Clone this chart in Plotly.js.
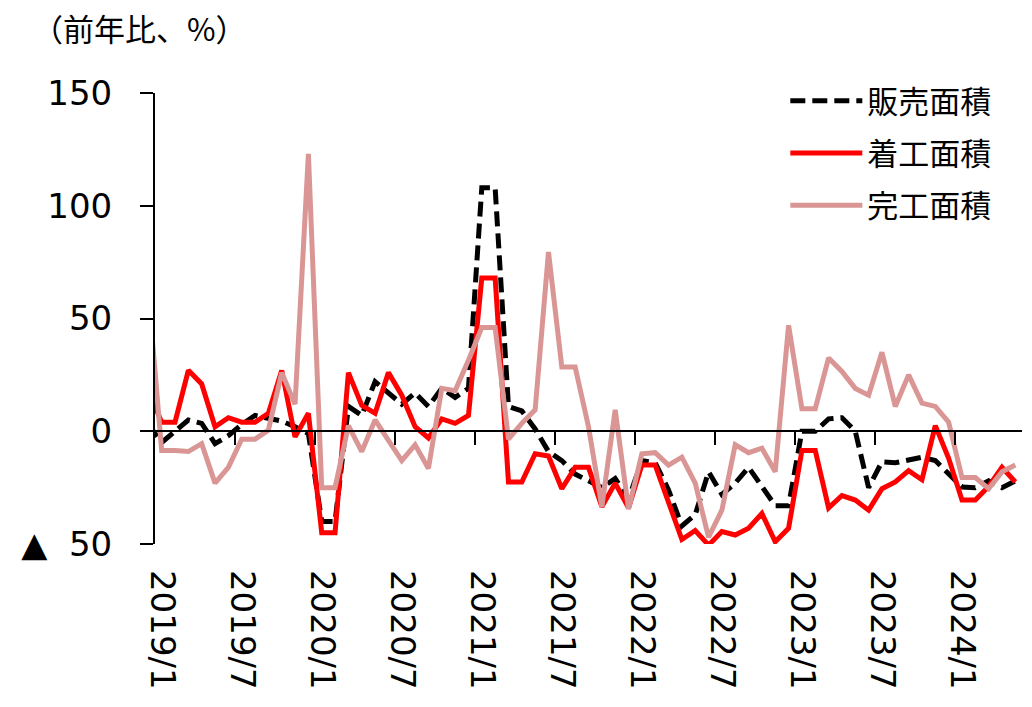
<!DOCTYPE html>
<html>
<head>
<meta charset="utf-8">
<script src="https://cdn.plot.ly/plotly-3.0.1.min.js"></script>
<style>
html,body{margin:0;padding:0;background:#fff;}
#chart{width:1032px;height:707px;}
</style>
</head>
<body>
<div id="chart"></div>
<script>
// Months (the first one, 2018/12, lies just left of the plot and is clipped)
const months = [
  "2018/12",
  "2019/1","2019/2","2019/3","2019/4","2019/5","2019/6","2019/7","2019/8","2019/9","2019/10","2019/11","2019/12",
  "2020/1","2020/2","2020/3","2020/4","2020/5","2020/6","2020/7","2020/8","2020/9","2020/10","2020/11","2020/12",
  "2021/1","2021/2","2021/3","2021/4","2021/5","2021/6","2021/7","2021/8","2021/9","2021/10","2021/11","2021/12",
  "2022/1","2022/2","2022/3","2022/4","2022/5","2022/6","2022/7","2022/8","2022/9","2022/10","2022/11","2022/12",
  "2023/1","2023/2","2023/3","2023/4","2023/5","2023/6","2023/7","2023/8","2023/9","2023/10","2023/11","2023/12",
  "2024/1","2024/2","2024/3","2024/4","2024/5"
];

// 販売面積 (sales area), YoY %
const sales = [
  3,
  -5, 0, 5, 3.5, -5.5, -2, 3, 7, 6, 4.5, 2, -1,
  -40, -40, 11, 7, 22, 17, 12, 17, 11, 19, 15, 19,
  108, 108, 11, 9, 1, -9, -13, -19, -22, -25, -21, -30,
  -13, -14, -26, -42, -37, -18, -28, -23, -16, -25, -33, -33,
  0, 0, 5.5, 6, 0, -25, -13.5, -14, -12.5, -11.5, -13, -19,
  -24.7, -25, -22, -25, -22
];

// 着工面積 (construction starts area), YoY %
const starts = [
  18,
  4, 4, 27, 21, 2, 6, 4, 4, 8, 27, -2.5, 8,
  -45, -45, 26, 11.5, 8, 26, 16, 2, -3, 5.5, 3.5, 7,
  68, 68, -22.5, -22.5, -10, -11, -25.5, -16, -16, -33.5, -23, -34,
  -15, -15, -31, -48, -44, -50.5, -44.5, -46, -43, -36.5, -49, -43,
  -8.5, -8.5, -34, -28.5, -30.5, -35, -25.5, -22.5, -17.5, -21.5, 2.5, -12,
  -30.5, -30.5, -24.5, -16, -22.5
];

// 完工面積 (completions area), YoY %
const completions = [
  62,
  -8.5, -8.5, -9, -5.5, -23, -16, -3.5, -3.5, 0.5, 26, 12, 123,
  -25, -25, 2.5, -9, 5, -4, -13, -6, -16.5, 19, 18, 31.5,
  46, 46, -3.5, 3.5, 9.5, 79.5, 28.5, 28.5, 2, -33.5, 9.5, -34.5,
  -10, -9.5, -15, -11.5, -23, -47, -35, -6, -9.5, -7.5, -18, 47,
  10, 10, 32.5, 26.5, 19, 16, 35, 11, 25, 12.5, 11, 4,
  -20.5, -20.5, -25.5, -18, -15
];

const xTickLabels = ["2019/1","2019/7","2020/1","2020/7","2021/1","2021/7","2022/1","2022/7","2023/1","2023/7","2024/1"];
const yTickValues = [-50, 0, 50, 100, 150];
const yTickLabels = ["▲\u00a0\u00a050", "0", "50", "100", "150"];
const seriesNames = ["販売面積", "着工面積", "完工面積"];

// month index: 2019/1 -> 0
const firstIdx = months.indexOf("2019/1");
const xPos = months.map((m, i) => i - firstIdx);
const labelPos = xTickLabels.map(l => months.indexOf(l) - firstIdx);
const boundaryPos = labelPos.slice(1).map(p => p - 0.5);
const lastIdx = months.length - 1 - firstIdx;
const xRange = [-0.5, lastIdx + 0.5];

const numFont = {family: "DejaVu Sans, Verdana, sans-serif", size: 34, color: "#000"};
const jpFont = {family: "Noto Sans CJK JP, sans-serif", size: 31, color: "#000"};

const traces = [
  {x: xPos, y: sales, name: seriesNames[0], type: "scatter", mode: "lines",
   line: {color: "#000000", width: 5, dash: "15px,7px"}, xaxis: "x", yaxis: "y", legendgroup: "a"},
  {x: xPos, y: starts, name: seriesNames[1], type: "scatter", mode: "lines",
   line: {color: "#FF0000", width: 5}, xaxis: "x", yaxis: "y", legendgroup: "b"},
  {x: xPos, y: completions, name: seriesNames[2], type: "scatter", mode: "lines",
   line: {color: "#D99694", width: 5}, xaxis: "x2", yaxis: "y", legendgroup: "c"}
];

const layout = {
  width: 1032, height: 707,
  paper_bgcolor: "#fff", plot_bgcolor: "#fff",
  margin: {l: 155, r: 10, t: 93, b: 163, pad: 0},
  title: {text: "（前年比、%）", font: {family: "Noto Sans CJK JP, sans-serif", size: 31, color: "#000"},
          xref: "container", yref: "container", x: 32/1032, xanchor: "left", y: 1 - 30/707, yanchor: "middle"},
  showlegend: true,
  legend: {x: 0.727, y: 1.042, xanchor: "left", yanchor: "top", font: jpFont,
           itemwidth: 72, tracegroupgap: 9, bgcolor: "rgba(0,0,0,0)", borderwidth: 0},
  xaxis: {range: xRange, tickmode: "array", tickvals: labelPos, ticktext: xTickLabels,
          tickangle: 90, ticks: "", showline: false, showgrid: false, zeroline: false,
          tickfont: numFont, ticklabelstandoff: 25, fixedrange: true},
  xaxis2: {overlaying: "x", anchor: "free", position: 0.25, range: xRange,
           showline: true, linecolor: "#000", linewidth: 2,
           ticks: "outside", ticklen: 13, tickwidth: 2, tickcolor: "#000",
           tickmode: "array", tickvals: boundaryPos, showticklabels: false,
           showgrid: false, zeroline: false, fixedrange: true},
  yaxis: {range: [-50, 150], tickmode: "array", tickvals: yTickValues, ticktext: yTickLabels,
          showline: true, linecolor: "#000", linewidth: 2,
          ticks: "outside", ticklen: 13, tickwidth: 2, tickcolor: "#000",
          showgrid: false, zeroline: false, tickfont: numFont, ticklabelstandoff: 21, fixedrange: true}
};

Plotly.newPlot("chart", traces, layout, {displayModeBar: false, staticPlot: true});
</script>
</body>
</html>
